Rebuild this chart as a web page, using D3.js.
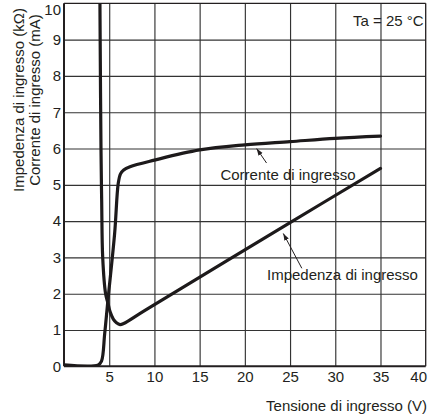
<!DOCTYPE html>
<html>
<head>
<meta charset="utf-8">
<script src="https://cdn.jsdelivr.net/npm/d3@7"></script>
<style>
  html, body { margin: 0; padding: 0; background: #fff; }
  svg { display: block; }
  text { font-family: "Liberation Sans", Arial, Helvetica, sans-serif; fill: #231f20; }
</style>
</head>
<body>
<svg id="chart" width="428" height="417"></svg>
<script>
// Input voltage (V) tick labels and left-axis tick labels (kΩ / mA share one scale)
const voltageTicks = [5, 10, 15, 20, 25, 30, 35, 40];
const levelTicks = [0, 1, 2, 3, 4, 5, 6, 7, 8, 9, 10];

// Input current (mA) versus input voltage (V)
const currentVolts = [0, 3.8, 4.15, 4.5, 4.85, 5.6, 6.0, 6.25, 6.6, 7.3, 10, 15, 20, 25, 30, 35];
const currentMilliamps = [0.04, 0.04, 0.14, 0.9, 1.8, 3.66, 5.04, 5.3, 5.41, 5.5, 5.68, 5.96, 6.1, 6.19, 6.28, 6.34];

// Input impedance (kΩ) versus input voltage (V)
const impedanceVolts = [3.96, 4.0, 4.09, 4.17, 4.28, 4.6, 4.85, 5.1, 5.45, 5.8, 6.2, 6.6, 9, 25, 35];
const impedanceKohm = [10.6, 9.0, 6.0, 4.5, 3.0, 2.0, 1.75, 1.5, 1.3, 1.2, 1.15, 1.18, 1.55, 3.96, 5.45];

const labelCurrent = "Corrente di ingresso";
const labelImpedance = "Impedenza di ingresso";
const yTitleLines = ["Impedenza di ingresso (kΩ)", "Corrente di ingresso (mA)"];
const xTitle = "Tensione di ingresso (V)";
const conditionNote = "Ta = 25 °C";

const svg = d3.select("#chart");
const plot = { left: 64, right: 425.7, top: 3.3, bottom: 366.3 };

const x = d3.scaleLinear().domain([0, 40]).range([plot.left, plot.right]);
const y = d3.scaleLinear().domain([0, 10]).range([plot.bottom, plot.top]);

const defs = svg.append("defs");
defs.append("clipPath").attr("id", "plot-clip")
  .append("rect")
  .attr("x", plot.left).attr("y", plot.top)
  .attr("width", plot.right - plot.left).attr("height", plot.bottom - plot.top);

defs.append("marker")
  .attr("id", "arrowhead")
  .attr("viewBox", "0 0 10 10")
  .attr("refX", 10).attr("refY", 5)
  .attr("markerWidth", 7).attr("markerHeight", 7)
  .attr("markerUnits", "userSpaceOnUse")
  .attr("orient", "auto")
  .append("path").attr("d", "M0,1.5 L10,5 L0,8.5 Z").attr("fill", "#231f20");

// Grid
const grid = svg.append("g").attr("class", "grid");
grid.append("g")
  .attr("transform", `translate(0,${plot.bottom})`)
  .call(d3.axisBottom(x).tickValues(voltageTicks.filter(v => v < 40))
    .tickSize(-(plot.bottom - plot.top)).tickFormat(""))
  .call(g => g.select(".domain").remove())
  .call(g => g.selectAll("line").attr("stroke", "#333").attr("stroke-width", 1.15));
grid.append("g")
  .attr("transform", `translate(${plot.left},0)`)
  .call(d3.axisLeft(y).tickValues(levelTicks.filter(v => v > 0 && v < 10))
    .tickSize(-(plot.right - plot.left)).tickFormat(""))
  .call(g => g.select(".domain").remove())
  .call(g => g.selectAll("line").attr("stroke", "#333").attr("stroke-width", 1.15));

// Frame: heavier left/bottom axes, lighter top/right border
svg.append("line").attr("x1", plot.left).attr("x2", plot.right)
  .attr("y1", plot.top).attr("y2", plot.top).attr("stroke", "#231f20").attr("stroke-width", 1.3);
svg.append("line").attr("x1", plot.right).attr("x2", plot.right)
  .attr("y1", plot.top).attr("y2", plot.bottom).attr("stroke", "#231f20").attr("stroke-width", 1.3);

// Axes with labels only (no tick marks)
const xAxis = svg.append("g")
  .attr("transform", `translate(0,${plot.bottom})`)
  .call(d3.axisBottom(x).tickValues(voltageTicks).tickSize(0).tickPadding(5).tickFormat(d3.format("d")));
xAxis.select(".domain").attr("stroke", "#231f20").attr("stroke-width", 2)
  .attr("d", `M${plot.left},0H${plot.right}`);
xAxis.selectAll("text").attr("font-size", 15).attr("fill", "#231f20")
  .attr("font-family", "\"Liberation Sans\", Arial, sans-serif")
  .attr("dx", d => d === 40 ? -7.5 : 0);

const yAxis = svg.append("g")
  .attr("transform", `translate(${plot.left},0)`)
  .call(d3.axisLeft(y).tickValues(levelTicks).tickSize(0).tickPadding(3).tickFormat(d3.format("d")));
yAxis.select(".domain").attr("stroke", "#231f20").attr("stroke-width", 2)
  .attr("d", `M0,${plot.top}V${plot.bottom}`);
yAxis.selectAll("text").attr("font-size", 15).attr("fill", "#231f20")
  .attr("font-family", "\"Liberation Sans\", Arial, sans-serif")
  .attr("y", d => d === 10 ? 6.5 : 0);

// Curves
const curveGroup = svg.append("g").attr("clip-path", "url(#plot-clip)");
const lineGen = d3.line()
  .x(d => x(d[0]))
  .y(d => y(d[1]))
  .curve(d3.curveCatmullRom.alpha(0.5));

const currentData = currentVolts.map((v, i) => [v, currentMilliamps[i]]);
const impedanceData = impedanceVolts.map((v, i) => [v, impedanceKohm[i]]);

[currentData, impedanceData].forEach(data => {
  curveGroup.append("path")
    .datum(data)
    .attr("d", lineGen)
    .attr("fill", "none")
    .attr("stroke", "#1d1a1b")
    .attr("stroke-width", 3.2)
    .attr("stroke-linejoin", "round")
    .attr("stroke-linecap", "round");
});

// Curve labels with leader arrows
const annotations = [
  { text: labelCurrent, tx: 17.3, ty: 5.13, from: [22.4, 5.6], to: [21.3, 6.0] },
  { text: labelImpedance, tx: 22.45, ty: 2.38, from: [26.3, 2.7], to: [24.25, 3.66] }
];
annotations.forEach(a => {
  svg.append("line")
    .attr("x1", x(a.from[0])).attr("y1", y(a.from[1]))
    .attr("x2", x(a.to[0])).attr("y2", y(a.to[1]))
    .attr("stroke", "#231f20").attr("stroke-width", 1)
    .attr("marker-end", "url(#arrowhead)");
  svg.append("text")
    .attr("x", x(a.tx)).attr("y", y(a.ty))
    .attr("font-size", 15)
    .text(a.text);
});

// Ambient temperature note
svg.append("text")
  .attr("x", plot.right - 2).attr("y", 26)
  .attr("text-anchor", "end")
  .attr("font-size", 15)
  .text(conditionNote);

// Axis titles
svg.append("text")
  .attr("x", 427).attr("y", 411)
  .attr("text-anchor", "end")
  .attr("font-size", 15)
  .text(xTitle);

const yTitleX = [24, 40];
yTitleLines.forEach((t, i) => {
  svg.append("text")
    .attr("transform", `translate(${yTitleX[i]},100) rotate(-90)`)
    .attr("text-anchor", "middle")
    .attr("font-size", 15)
    .text(t);
});
</script>
</body>
</html>
